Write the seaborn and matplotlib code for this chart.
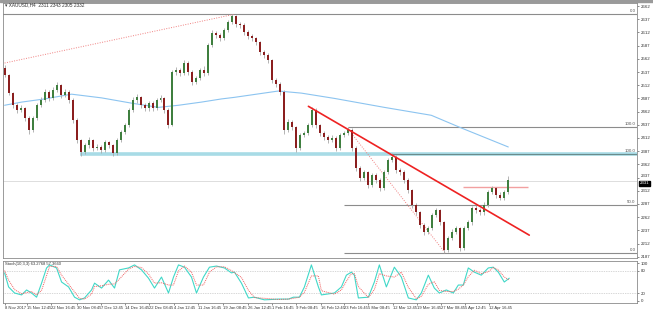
import numpy as np
import pandas as pd
import matplotlib
matplotlib.use("Agg")
import matplotlib.pyplot as plt
from matplotlib.patches import Rectangle
import seaborn as sns

# ---------------- data ----------------
first_open = 2545
closes = [2531, 2497, 2474, 2465, 2468, 2450, 2427, 2450, 2474, 2484,
          2499, 2487, 2503, 2512, 2493, 2499, 2484, 2446, 2408, 2385,
          2398, 2408, 2393, 2395, 2389, 2404, 2398, 2383, 2408, 2423,
          2436, 2465, 2484, 2489, 2474, 2468, 2478, 2468, 2484, 2487,
          2465, 2436, 2537, 2540, 2535, 2554, 2537, 2518, 2525, 2540,
          2535, 2588, 2610, 2607, 2601, 2616, 2631, 2643, 2627, 2626,
          2612, 2605, 2601, 2593, 2574, 2569, 2559, 2521, 2514, 2499,
          2427, 2442, 2432, 2393, 2417, 2421, 2436, 2465, 2436, 2421,
          2413, 2408, 2412, 2393, 2417, 2421, 2427, 2393, 2355, 2336,
          2347, 2323, 2341, 2332, 2317, 2347, 2370, 2376, 2351, 2347,
          2332, 2313, 2285, 2271, 2247, 2234, 2241, 2266, 2275, 2252,
          2199, 2222, 2234, 2241, 2203, 2241, 2252, 2279, 2275, 2271,
          2285, 2309, 2317, 2304, 2298, 2309, 2332]
highs = [2550, 2534, 2500, 2478, 2474, 2471, 2453, 2454, 2478, 2490,
         2504, 2502, 2508, 2518, 2515, 2505, 2503, 2487, 2449, 2411,
         2403, 2413, 2411, 2400, 2399, 2408, 2407, 2401, 2412, 2428,
         2441, 2469, 2489, 2496, 2492, 2479, 2483, 2482, 2488, 2494,
         2490, 2468, 2541, 2547, 2545, 2560, 2557, 2540, 2530, 2545,
         2548, 2592, 2616, 2614, 2610, 2621, 2636, 2647, 2645, 2632,
         2629, 2616, 2609, 2604, 2596, 2578, 2573, 2562, 2525, 2518,
         2502, 2448, 2447, 2435, 2421, 2426, 2440, 2470, 2468, 2439,
         2425, 2418, 2418, 2415, 2421, 2426, 2432, 2430, 2396, 2359,
         2352, 2350, 2346, 2345, 2336, 2351, 2375, 2383, 2379, 2356,
         2351, 2336, 2316, 2289, 2274, 2251, 2246, 2270, 2280, 2278,
         2255, 2227, 2239, 2246, 2244, 2245, 2257, 2284, 2286, 2280,
         2290, 2314, 2322, 2320, 2309, 2313, 2340]
lows = [2527, 2493, 2469, 2460, 2461, 2445, 2420, 2424, 2447, 2470,
        2480, 2482, 2484, 2499, 2488, 2489, 2479, 2441, 2402, 2378,
        2381, 2394, 2388, 2389, 2384, 2386, 2393, 2378, 2380, 2404,
        2419, 2432, 2461, 2479, 2469, 2463, 2464, 2463, 2465, 2480,
        2460, 2430, 2434, 2532, 2529, 2531, 2532, 2512, 2514, 2521,
        2530, 2532, 2585, 2601, 2596, 2598, 2612, 2627, 2622, 2620,
        2607, 2600, 2596, 2588, 2569, 2563, 2554, 2516, 2508, 2494,
        2420, 2423, 2427, 2386, 2390, 2413, 2417, 2432, 2431, 2416,
        2408, 2402, 2404, 2388, 2390, 2413, 2417, 2388, 2349, 2330,
        2332, 2318, 2319, 2327, 2311, 2313, 2343, 2366, 2346, 2342,
        2327, 2308, 2280, 2266, 2242, 2229, 2230, 2237, 2262, 2247,
        2194, 2196, 2218, 2230, 2198, 2200, 2237, 2248, 2270, 2266,
        2267, 2281, 2305, 2299, 2294, 2295, 2306]

ma_x = [0, 4.25, 10, 16.75, 24.25, 31.75, 38.5, 43.5, 49.25, 54.25, 57.5,
        68.5, 74.25, 82.5, 95, 106.75, 114.25, 126]
ma_y = [2474, 2480, 2486, 2495, 2488, 2478, 2470, 2474, 2480, 2486, 2489,
        2501, 2497, 2487, 2470, 2455, 2431, 2395]

stoch_x = [0, 1, 2.5, 4.25, 5.5, 6.75, 8, 9.25, 10.5, 11.25, 13, 14.25, 16, 17.5,
           18.75, 20, 21.75, 22.5, 24.25, 26, 27.5, 28.75, 31, 32.5, 34.25, 36,
           37.5, 39.25, 41, 42.25, 43.5, 45, 46.75, 48, 49.75, 51.25, 53, 55,
           56.75, 57.5, 59.25, 61, 62.5, 65, 68.5, 71, 72.25, 73.75, 75, 76.75,
           78.5, 79.25, 82.5, 84.25, 85.5, 86.75, 87.5, 88.5, 91, 92.5, 93.75,
           95.5, 97.5, 99.25, 101, 103, 104.25, 106, 107.5, 108.75, 110.5,
           112.25, 113.5, 114.75, 116, 117.5, 119.25, 121, 122.25, 123.5, 125,
           126.25]
stoch_k = [74, 37, 21, 16, 29, 21, 10, 47, 87, 95, 87, 50, 37, 10, 3, 8, 29, 47,
           34, 55, 34, 82, 87, 95, 82, 60, 34, 63, 21, 63, 95, 89, 63, 21, 63, 89,
           92, 87, 74, 76, 47, 8, 10, 3, 5, 5, 10, 10, 37, 95, 37, 16, 21, 37, 68,
           76, 68, 8, 10, 50, 95, 37, 89, 63, 8, 3, 21, 68, 34, 21, 29, 21, 42,
           42, 87, 76, 68, 87, 89, 76, 50, 60]
stoch_d = [80, 55, 30, 19, 22, 25, 16, 28, 67, 91, 91, 68, 44, 24, 7, 5, 18, 38,
           40, 44, 45, 58, 84, 91, 88, 71, 47, 48, 42, 42, 79, 92, 76, 42, 42, 76,
           90, 90, 80, 75, 62, 28, 9, 7, 4, 5, 7, 10, 23, 66, 66, 27, 18, 29, 52,
           72, 72, 38, 9, 30, 72, 66, 63, 76, 36, 6, 12, 44, 51, 28, 25, 25, 31,
           42, 64, 81, 72, 77, 88, 82, 63, 55]

tick_pos = [0, 5.5, 11.5, 18, 24.2, 30.2, 36.2, 42.5, 48.5, 54.7, 61, 66.8, 73,
            79.2, 85, 91, 97.2, 103.2, 109.2, 115.2, 121.2]
tick_labels = ["8 Nov 2017", "15 Nov 12:45", "22 Nov 16:45", "30 Nov 08:45",
               "7 Dec 12:45", "14 Dec 16:45", "22 Dec 08:45", "4 Jan 12:45",
               "11 Jan 16:45", "19 Jan 08:45", "26 Jan 12:45", "1 Feb 16:45",
               "9 Feb 08:45", "16 Feb 12:45", "23 Feb 16:45", "5 Mar 08:45",
               "12 Mar 12:45", "19 Mar 16:45", "27 Mar 08:45", "5 Apr 12:45",
               "12 Apr 16:45"]
price_ticks = list(range(2187, 2663, 25))

trend_x = [76, 131.25]
trend_y = [2472, 2228]
dot1_x = [0, 57.25]
dot1_y = [2554, 2646]
dot2_x = [86.75, 110.25]
dot2_y = [2421, 2194]
fib_levels = [2647, 2433, 2382, 2285, 2194]
fib_start = [-1, 86, 97, 85, 85]
fib_labels = ["0.0", "100.0", "100.0", "50.0", "0.0"]
support_level = 2382
support_start = 18.75
resist_level = 2320
resist_x = [114.75, 131]
last_price = 2331

# ---------------- plot ----------------
sns.set_theme(style="white")
plt.rcParams['font.family'] = ['DejaVu Sans']
NARROW = ['Liberation Sans Narrow', 'Liberation Sans', 'DejaVu Sans']

W, H = 653, 313
fig = plt.figure(figsize=(W / 100, H / 100), dpi=100)
fig.patch.set_facecolor("white")
fig.patches.append(Rectangle((0, 1 - 2 / H), 1, 2 / H, transform=fig.transFigure,
                             color="#9a9a9a", zorder=0))

ax = fig.add_axes([3 / W, 1 - 258 / H, 634 / W, 255 / H])
ax2 = fig.add_axes([3 / W, 1 - 303 / H, 634 / W, 42 / H], sharex=ax)

xmin, xmax = -0.4, 158.2
ax.set_xlim(xmin, xmax)
ax.set_ylim(2184.7, 2667.7)

# support band / fib lines
ax.hlines(support_level, support_start, xmax, color="#a8dbe6", lw=2.6, zorder=1)
for lev, st in zip(fib_levels, fib_start):
    col = "#6b8c8c" if lev == support_level else "#8c8c8c"
    ax.hlines(lev, st, xmax, color=col, lw=0.8, zorder=2)

for lev, lab in zip(fib_levels, fib_labels):
    ax.text(0.998, lev + 1.5, lab, transform=ax.get_yaxis_transform(),
            ha="right", va="bottom", fontsize=3.2, color="#555555", family=NARROW)

ax.hlines(last_price, xmin, xmax, color="#d8d8d8", lw=0.6, zorder=1)
ax.hlines(resist_level, resist_x[0], resist_x[1], color="#f2a0a0", lw=1.0, zorder=2)

# moving average
sns.lineplot(x=ma_x, y=ma_y, ax=ax, color="#8cc4f0", lw=0.8, zorder=2)

# dotted lines
ax.plot(dot1_x, dot1_y, color="#f08080", lw=0.7, ls=(0, (1, 1.5)), zorder=2)
ax.plot(dot2_x, dot2_y, color="#f08080", lw=0.7, ls=(0, (1, 1.5)), zorder=2)

# candles
opens = [first_open] + closes[:-1]
idx = np.arange(len(closes))
ax.vlines(idx, lows, highs, color="#a8a8a8", lw=0.6, zorder=3)
up = np.array(closes) >= np.array(opens)
bottoms = np.minimum(opens, closes)
heights = np.maximum(np.abs(np.array(closes) - np.array(opens)), 1.2)
ax.bar(idx[up], heights[up], bottom=bottoms[up], width=0.5, color="#3f7f3f",
       linewidth=0, zorder=4)
ax.bar(idx[~up], heights[~up], bottom=bottoms[~up], width=0.5, color="#8b1f1f",
       linewidth=0, zorder=4)

# trend line
ax.plot(trend_x, trend_y, color="#ee2222", lw=1.2, zorder=5)

ax.yaxis.tick_right()
ax.set_yticks(price_ticks)
ax.set_yticklabels([str(p) for p in price_ticks])
ax.tick_params(axis="y", labelsize=3.2, length=1.5, width=0.4, pad=1,
               colors="#333333", right=True)
for lab in ax.get_yticklabels():
    lab.set_family(NARROW)
    if lab.get_text() == "2337":
        lab.set_va("bottom")
ax.tick_params(axis="x", bottom=False, labelbottom=False)
ax.set_xlabel("")
ax.set_ylabel("")
for s in ax.spines.values():
    s.set_color("#8a8a8a")
    s.set_linewidth(0.6)

ax.text(1.004, last_price - 1, str(last_price), transform=ax.get_yaxis_transform(),
        ha="left", va="top", fontsize=3.2, color="white", family=NARROW,
        bbox=dict(boxstyle="square,pad=0.12", fc="black", ec="black"))

fig.text(5 / W, 1 - 5 / H, "\u25BE XAUUSD,H4  2311 2343 2305 2332", fontsize=3.4,
         color="#333333", va="center", ha="left", family=NARROW)

# stochastic
ax2.set_ylim(-5.3, 105.3)
ax2.hlines([20, 80], xmin, xmax, color="#b0b0b0", lw=0.5, ls=(0, (1, 1.5)))
sns.lineplot(x=stoch_x, y=stoch_k, ax=ax2, color="#40d8c8", lw=0.8)
sns.lineplot(x=stoch_x, y=stoch_d, ax=ax2, color="#f06060", lw=0.7,
             linestyle=(0, (1, 1)))
ax2.yaxis.tick_right()
ax2.set_yticks([0, 20, 80, 100])
ax2.set_yticklabels(["0", "20", "80", "100"])
ax2.tick_params(axis="y", labelsize=3.2, length=1.5, width=0.4, pad=1,
                colors="#333333", right=True)
ax2.set_xticks(tick_pos)
ax2.set_xticklabels(tick_labels)
ax2.tick_params(axis="x", labelsize=3.0, length=1.5, width=0.4, pad=0.8,
                colors="#333333", bottom=True)
for lab in ax2.get_xticklabels():
    lab.set_ha("left")
    lab.set_family(NARROW)
for lab in ax2.get_yticklabels():
    lab.set_family(NARROW)
ax2.set_xlabel("")
ax2.set_ylabel("")
for s in ax2.spines.values():
    s.set_color("#8a8a8a")
    s.set_linewidth(0.6)
ax2.text(0.003, 0.97, "Stoch(10,3,3) 63.2768 57.3660", transform=ax2.transAxes,
         fontsize=3.0, color="#333333", va="top", ha="left", family=NARROW)
ax.set_xlim(xmin, xmax)

fig.savefig("out.png", dpi=100, facecolor="white")
